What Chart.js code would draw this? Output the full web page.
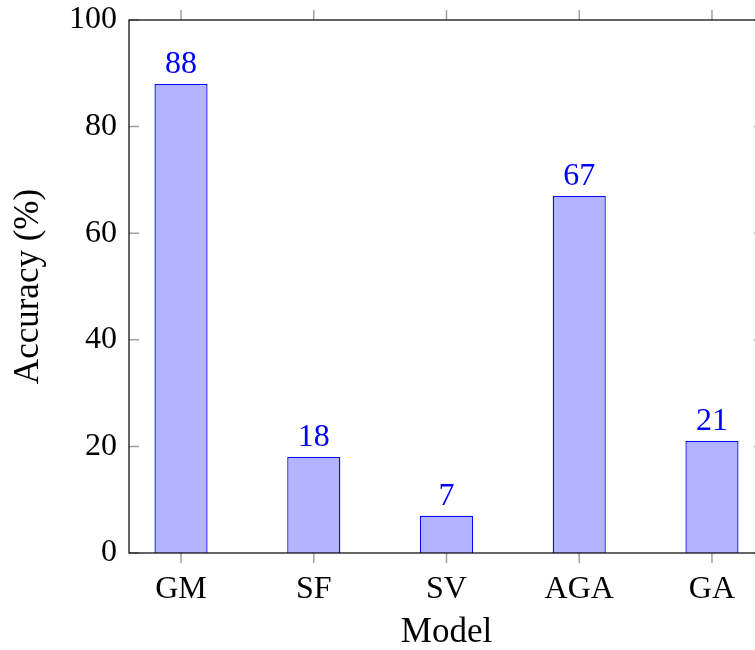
<!DOCTYPE html>
<html>
<head>
<meta charset="utf-8">
<script src="https://cdn.jsdelivr.net/npm/chart.js@4/dist/chart.umd.min.js"></script>
<style>
  html, body { margin: 0; padding: 0; background: #fff; overflow: hidden; }
  #wrap { width: 755px; height: 650px; overflow: hidden; position: relative; }
  #box { width: 790px; height: 650px; position: absolute; left: 0; top: 0; }
</style>
</head>
<body>
<div id="wrap"><div id="box"><canvas id="c"></canvas></div></div>
<script>
const categories = ['GM', 'SF', 'SV', 'AGA', 'GA'];
const accuracy = [88, 18, 7, 67, 21];
const yTicks = [0, 20, 40, 60, 80, 100];

const FONT = "'Liberation Serif', 'Times New Roman', serif";
const FS = 32;
const TFS = 35;

const framePlugin = {
  id: 'frame',
  afterDatasetsDraw(chart) {
    const { ctx, chartArea: a, scales } = chart;
    ctx.save();
    ctx.strokeStyle = '#a0a0a0';
    ctx.lineWidth = 1.5;
    ctx.beginPath();
    categories.forEach((_, i) => {
      const x = scales.x.getPixelForValue(i);
      ctx.moveTo(x, a.bottom); ctx.lineTo(x, a.bottom + 10);
      ctx.moveTo(x, a.top); ctx.lineTo(x, a.top - 10);
    });
    yTicks.forEach(v => {
      const y = scales.y.getPixelForValue(v);
      ctx.moveTo(a.left, y); ctx.lineTo(a.left + 10, y);
      ctx.moveTo(a.right, y); ctx.lineTo(a.right - 10, y);
    });
    ctx.stroke();
    ctx.strokeStyle = '#000';
    ctx.lineWidth = 1.2;
    ctx.strokeRect(a.left, a.top, a.right - a.left, a.bottom - a.top);
    ctx.fillStyle = '#0000ff';
    ctx.font = FS + 'px ' + FONT;
    ctx.textAlign = 'center';
    ctx.textBaseline = 'alphabetic';
    const meta = chart.getDatasetMeta(0);
    meta.data.forEach((bar, i) => {
      ctx.fillText(String(accuracy[i]), bar.x, bar.y - 11);
    });
    ctx.restore();
  }
};

new Chart(document.getElementById('c'), {
  type: 'bar',
  data: {
    datasets: [{
      data: accuracy.map((v, i) => ({ x: i, y: v })),
      backgroundColor: 'rgb(179,179,255)',
      borderColor: '#0000ff',
      borderWidth: 1.3,
      barPercentage: 0.4,
      categoryPercentage: 1.0
    }]
  },
  options: {
    responsive: true,
    maintainAspectRatio: false,
    animation: false,
    events: [],
    layout: { padding: { left: 0, right: 26, top: 20, bottom: 0 } },
    plugins: { legend: { display: false }, tooltip: { enabled: false } },
    scales: {
      x: {
        type: 'linear',
        offset: false,
        min: -0.392,
        max: 4.392,
        grid: { display: false, drawTicks: false, offset: false },
        border: { display: false },
        afterBuildTicks(scale) { scale.ticks = categories.map((_, i) => ({ value: i })); },
        afterFit(scale) { scale.height = 650 - 553; scale.paddingLeft = 0; scale.paddingRight = 0; },
        ticks: {
          autoSkip: false,
          maxRotation: 0,
          padding: 17,
          color: '#000',
          font: { family: FONT, size: FS },
          callback: (v) => categories[v]
        },
        title: {
          display: true,
          text: 'Model',
          color: '#000',
          font: { family: FONT, size: TFS, lineHeight: 1 },
          padding: 0
        }
      },
      y: {
        min: 0,
        max: 100,
        grid: { display: false, drawTicks: false },
        border: { display: false },
        afterBuildTicks(scale) { scale.ticks = yTicks.map(v => ({ value: v })); },
        afterFit(scale) { scale.width = 129; scale.paddingTop = 0; scale.paddingBottom = 0; },
        ticks: {
          padding: 12,
          color: '#000',
          font: { family: FONT, size: FS }
        },
        title: {
          display: true,
          text: 'Accuracy (%)',
          color: '#000',
          font: { family: FONT, size: TFS, lineHeight: 1 },
          padding: { top: 11, bottom: 0 }
        }
      }
    }
  },
  plugins: [framePlugin]
});
</script>
</body>
</html>
